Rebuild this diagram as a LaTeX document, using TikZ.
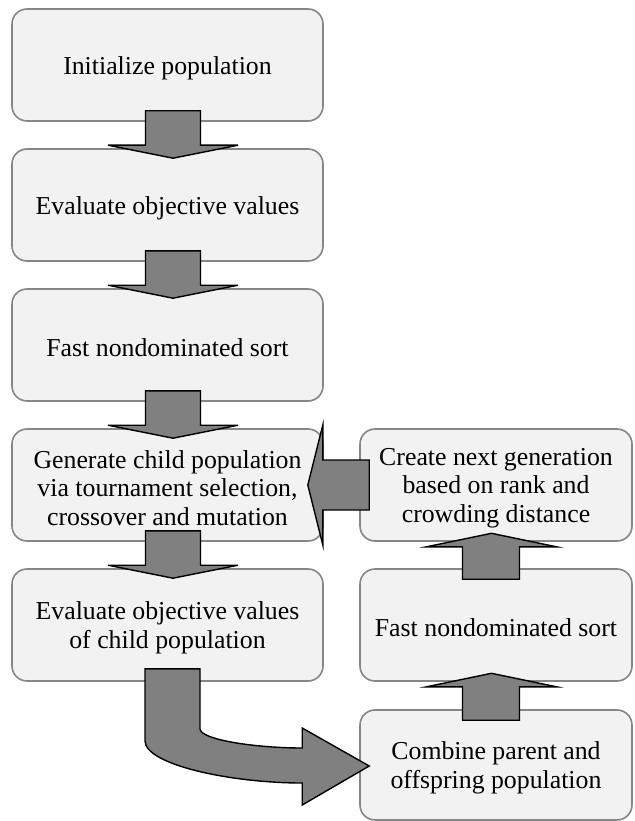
\documentclass[tikz,border=0pt]{standalone}
\usepackage{fontspec}
\setmainfont{Liberation Serif}
\usetikzlibrary{calc}
\definecolor{boxfill}{HTML}{F2F2F2}
\definecolor{boxline}{HTML}{868686}
\definecolor{arrfill}{HTML}{808080}
\tikzset{
  boxtext/.style={align=center, inner sep=0pt, yshift=-3pt,
    font=\fontsize{25.8}{28.5}\selectfont},
  stepbox/.style={draw=boxline, fill=boxfill, line width=1.6pt, rounded corners=15pt,
    minimum height=112pt, inner sep=0pt},
  leftbox/.style={stepbox, minimum width=311pt},
  rightbox/.style={stepbox, minimum width=272pt},
  blockarrow/.style={draw=black, fill=arrfill, line width=1.4pt, line join=miter},
}
\newcommand\dnarrow[2]{%
  \path[blockarrow] ($(#1.south)+(-22,-11)$) -- ($(#1.south)+(33,-11)$)
    -- ($(#2.north)+(33,-3)$) -- ($(#2.north)+(70.5,-3)$)
    -- ($(#2.north)+(5.5,10)$) -- ($(#2.north)+(-59.5,-3)$)
    -- ($(#2.north)+(-22,-3)$) -- cycle;}
\newcommand\uparr[2]{%
  \path[blockarrow] ($(#1.north)+(-33.5,11)$) -- ($(#1.north)+(23.5,11)$)
    -- ($(#2.south)+(23.5,5)$) -- ($(#2.south)+(60.5,5)$)
    -- ($(#2.south)+(-4.5,-8.5)$) -- ($(#2.south)+(-69.5,5)$)
    -- ($(#2.south)+(-33.5,5)$) -- cycle;}
\begin{document}
\begin{tikzpicture}[x=1pt,y=-1pt]
\useasboundingbox (0,0) rectangle (634,821);
\node[leftbox, label={[boxtext]center:Initialize population}] (b1) at (167.5,65) {};
\node[leftbox, label={[boxtext]center:Evaluate objective values}] (b2) at (167.5,205) {};
\node[leftbox, label={[boxtext]center:Fast nondominated sort}] (b3) at (167.5,345) {};
\node[leftbox, label={[boxtext]center:Generate child population\\via tournament selection,\\crossover and mutation}] (b4) at (167.5,485) {};
\node[leftbox, label={[boxtext]center:Evaluate objective values\\of child population}] (b5) at (167.5,625) {};
\node[rightbox, label={[boxtext]center:Create next generation\\based on rank and\\crowding distance}] (r1) at (496,485) {};
\node[rightbox, label={[boxtext]center:Fast nondominated sort}] (r2) at (496,625) {};
\node[rightbox, minimum height=110pt, label={[boxtext]center:Combine parent and\\offspring population}] (r3) at (496,765) {};
\dnarrow{b1}{b2}
\dnarrow{b2}{b3}
\dnarrow{b3}{b4}
\dnarrow{b4}{b5}
\uparr{r2}{r1}
\uparr{r3}{r2}
% left arrow from r1 to b4
\path[blockarrow] ($(r1.west)+(10,-25)$) -- ($(r1.west)+(10,25)$)
  -- ($(b4.east)+(-1,25)$) -- ($(b4.east)+(-1,60)$)
  -- ($(b4.east)+(-16,0)$) -- ($(b4.east)+(-1,-60)$)
  -- ($(b4.east)+(-1,-25)$) -- cycle;
% curved arrow from b5 to r3
\path[blockarrow] ($(b5.south)+(-22.5,-13)$) -- ($(b5.south)+(32.5,-13)$)
  -- ($(b5.south)+(32.5,47)$)
  .. controls ($(b5.south)+(32.5,58)$) and ($(r3.west)+(-103,-17)$) .. ($(r3.west)+(-57,-17)$)
  -- ($(r3.west)+(-57,-37)$) -- ($(r3.west)+(10,1)$) -- ($(r3.west)+(-57,40)$)
  -- ($(r3.west)+(-57,18)$)
  .. controls ($(r3.west)+(-128,18)$) and ($(b5.south)+(-22.5,83)$) .. ($(b5.south)+(-22.5,59)$)
  -- cycle;
\end{tikzpicture}
\end{document}
